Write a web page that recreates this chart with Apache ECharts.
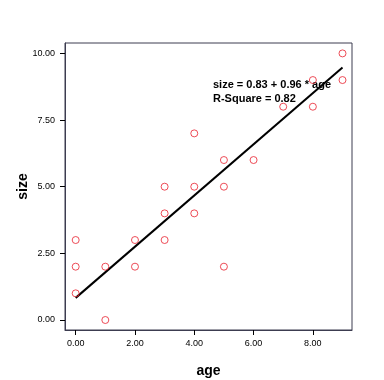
<!DOCTYPE html>
<html>
<head>
<meta charset="utf-8">
<script src="https://cdn.jsdelivr.net/npm/echarts@6/dist/echarts.min.js"></script>
<style>html,body{margin:0;padding:0;background:#fff}#c{width:384px;height:380px}</style>
</head>
<body>
<div id="c"></div>
<script>
var ageValues  = [0, 0, 0, 1, 1, 2, 2, 3, 3, 3, 4, 4, 4, 5, 5, 5, 6, 7, 8, 8, 9, 9];
var sizeValues = [3, 2, 1, 2, 0, 3, 2, 5, 4, 3, 7, 5, 4, 6, 5, 2, 6, 8, 9, 8, 10, 9];
var xTicks = [0, 2, 4, 6, 8];
var yTicks = [0, 2.5, 5, 7.5, 10];
var fitCoef = [0.83, 0.96];       // intercept, slope
var fitRange = [0, 9];
var annotation = ['size = 0.83 + 0.96 * age', 'R-Square = 0.82'];

var points = ageValues.map(function (a, i) { return [a, sizeValues[i]]; });
var fitLine = fitRange.map(function (x) { return [x, fitCoef[0] + fitCoef[1] * x]; });

var frame = '#3c3c50';
var chart = echarts.init(document.getElementById('c'), null, {renderer: 'canvas'});
chart.setOption({
  animation: false,
  backgroundColor: '#fff',
  grid: {left: 65, top: 43, right: 32, bottom: 50, show: true, borderColor: frame, borderWidth: 1,
    backgroundColor: '#fff', containLabel: false, outerBoundsMode: 'none'},
  xAxis: {
    type: 'value', min: -0.36, max: 9.32,
    name: 'age', nameLocation: 'middle', nameGap: 34, nameMoveOverlap: false,
    nameTextStyle: {fontFamily: 'Liberation Sans, Arial', fontWeight: 'bold', fontSize: 14, color: '#000'},
    axisLine: {show: true, onZero: false, lineStyle: {color: frame}},
    axisTick: {show: true, length: 5, customValues: xTicks, lineStyle: {color: '#000', width: 1}},
    axisLabel: {customValues: xTicks, margin: 9, fontFamily: 'Liberation Sans, Arial', fontSize: 9, color: '#000',
      formatter: function (v) { return v.toFixed(2); }},
    splitLine: {show: false}
  },
  yAxis: {
    type: 'value', min: -0.375, max: 10.39,
    name: 'size', nameLocation: 'middle', nameGap: 35, nameRotate: 90, nameMoveOverlap: false,
    nameTextStyle: {fontFamily: 'Liberation Sans, Arial', fontWeight: 'bold', fontSize: 14, color: '#000'},
    axisLine: {show: true, onZero: false, lineStyle: {color: frame}},
    axisTick: {show: true, length: 5, customValues: yTicks, lineStyle: {color: '#000', width: 1}},
    axisLabel: {customValues: yTicks, margin: 10, fontFamily: 'Liberation Sans, Arial', fontSize: 9, color: '#000',
      formatter: function (v) { return v.toFixed(2); }},
    splitLine: {show: false}
  },
  series: [
    {
      type: 'line', data: fitLine, symbol: 'none', silent: true,
      lineStyle: {color: '#000', width: 2}, z: 2
    },
    {
      type: 'scatter', data: points, symbol: 'circle', symbolSize: 7,
      itemStyle: {color: 'rgba(0,0,0,0)', borderColor: '#e8202e', borderWidth: 1}, z: 3
    }
  ],
  graphic: [
    {type: 'text', left: 213, top: 78, style: {text: annotation.join('\n'), fill: '#000',
      font: 'bold 11px "Liberation Sans", Arial', lineHeight: 14}}
  ]
});
</script>
</body>
</html>
